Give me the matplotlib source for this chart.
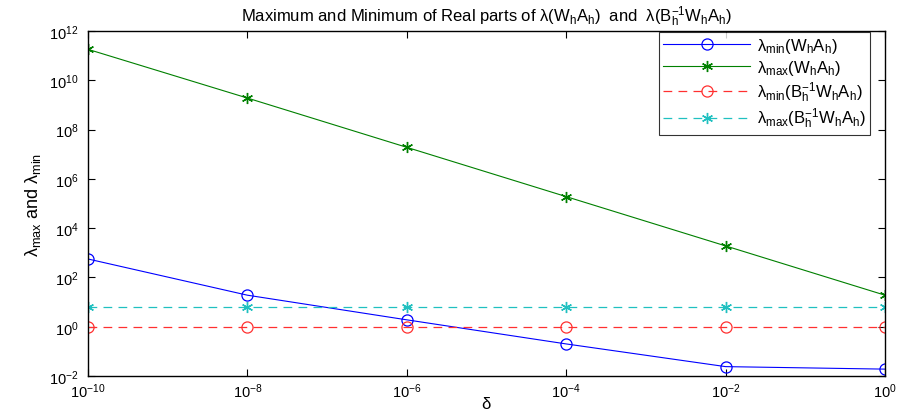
import matplotlib
matplotlib.use("Agg")
import matplotlib.pyplot as plt
from matplotlib.ticker import FixedLocator, NullLocator, LogFormatterSciNotation

plt.rcParams['font.family'] = ['Liberation Sans', 'DejaVu Sans']
plt.rcParams['mathtext.fontset'] = 'custom'
plt.rcParams['mathtext.rm'] = 'Liberation Sans'
plt.rcParams['mathtext.it'] = 'Liberation Sans'
plt.rcParams['mathtext.default'] = 'rm'

delta = [1e-10, 1e-8, 1e-6, 1e-4, 1e-2, 1e0]
lmin_WA = [560, 19, 1.9, 0.2, 0.024, 0.019]
lmax_WA = [1.8e11, 1.9e9, 1.9e7, 1.9e5, 1.9e3, 19]
lmin_BWA = [1, 1, 1, 1, 1, 1]
lmax_BWA = [6.6, 6.6, 6.6, 6.6, 6.6, 6.6]

xticks = [1e-10, 1e-8, 1e-6, 1e-4, 1e-2, 1e0]
yticks = [1e-2, 1e0, 1e2, 1e4, 1e6, 1e8, 1e10, 1e12]

fig = plt.figure(figsize=(8.98, 4.10), dpi=100)
ax = fig.add_axes([0.098, 0.0805, 0.8875, 0.8415])

ast = (6, 2, 0)
ax.plot(delta, lmin_WA, '-', color='#0000ff', lw=0.8, marker='o', ms=8, mfc='none', mew=0.9,
        label=r'$\lambda_{min}(W_hA_h)$')
ax.plot(delta, lmax_WA, '-', color='#008000', lw=0.8, marker=ast, ms=8, mew=1.0,
        label=r'$\lambda_{max}(W_hA_h)$')
ax.plot(delta, lmin_BWA, '--', color='#ff3030', lw=0.9, marker='o', ms=8, mfc='none', mew=0.9,
        dashes=(7, 5), label=r'$\lambda_{min}(B_h^{-1}W_hA_h)$')
ax.plot(delta, lmax_BWA, '--', color='#20c0c0', lw=0.9, marker=ast, ms=8, mew=1.0,
        dashes=(7, 5), label=r'$\lambda_{max}(B_h^{-1}W_hA_h)$')

ax.set_xscale('log')
ax.set_yscale('log')
ax.set_xlim(1e-10, 1e0)
ax.set_ylim(1e-2, 1e12)
ax.xaxis.set_major_locator(FixedLocator(xticks))
ax.yaxis.set_major_locator(FixedLocator(yticks))
ax.xaxis.set_minor_locator(NullLocator())
ax.yaxis.set_minor_locator(NullLocator())
ax.xaxis.set_major_formatter(LogFormatterSciNotation())
ax.yaxis.set_major_formatter(LogFormatterSciNotation())
ax.tick_params(direction='in', top=True, right=True, length=5, width=0.8, labelsize=10.5)
ax.tick_params(axis='x', pad=4)
ax.tick_params(axis='y', pad=7)
for s in ax.spines.values():
    s.set_linewidth(1.0)

ax.set_title(r'Maximum and Minimum of Real parts of $\lambda(W_hA_h)$  and  $\lambda(B_h^{-1}W_hA_h)$',
             fontsize=12, pad=7)
ax.set_xlabel(r'$\delta$', fontsize=12, labelpad=-4)
ax.set_ylabel(r'$\lambda_{max}$ and $\lambda_{min}$', fontsize=13, labelpad=4)

leg = ax.legend(loc='upper right', bbox_to_anchor=(0.981, 0.997), fontsize=12, frameon=True,
                fancybox=False, edgecolor='black', borderaxespad=0.0, handlelength=5.2,
                labelspacing=0.15, borderpad=0.25, handletextpad=0.4)
leg.get_frame().set_linewidth(0.8)

fig.savefig('out.png', dpi=100)
